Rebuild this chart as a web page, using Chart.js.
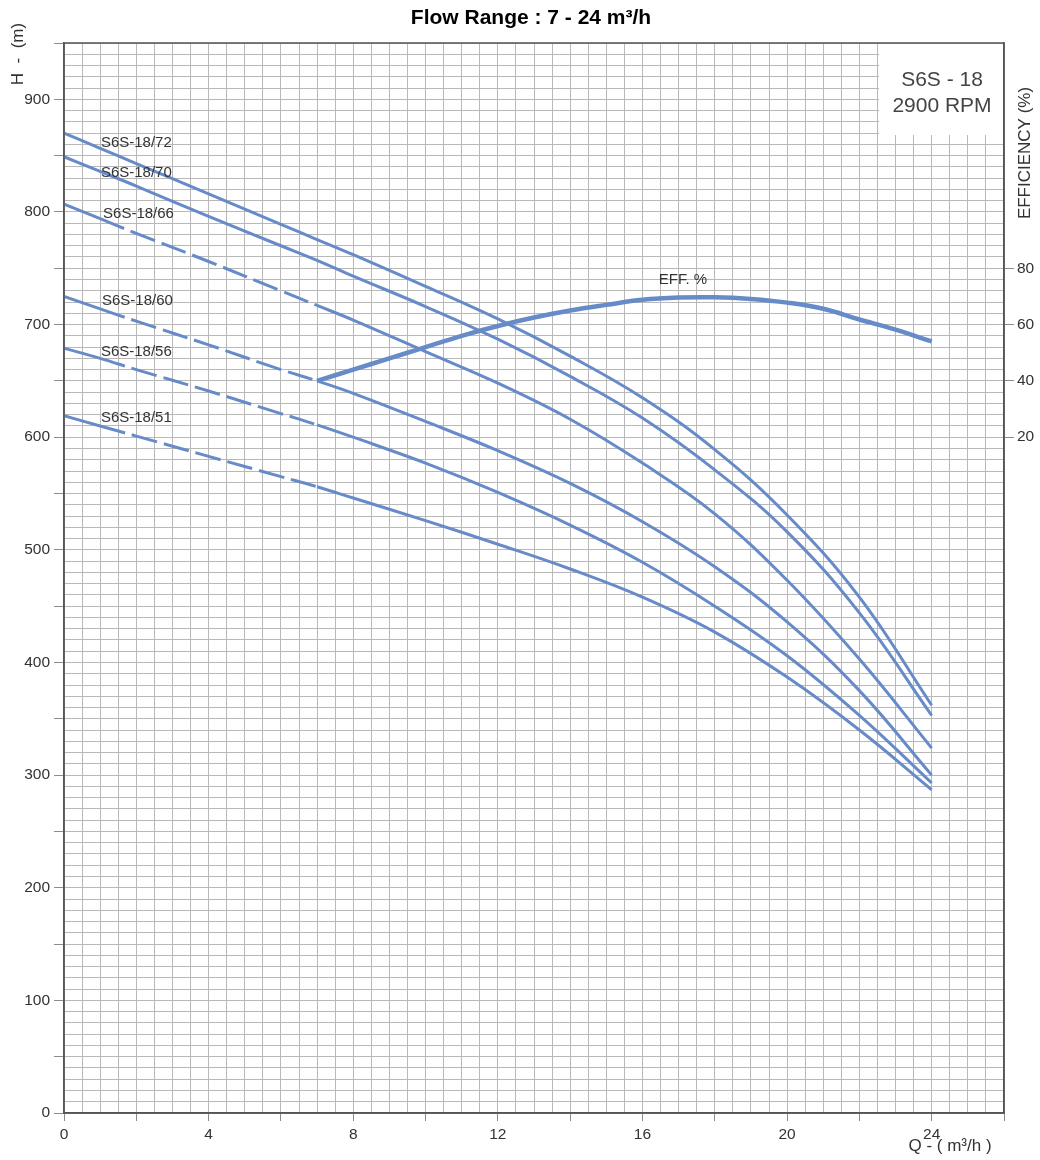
<!DOCTYPE html>
<html>
<head>
<meta charset="utf-8">
<script src="https://cdn.jsdelivr.net/npm/chart.js@4"></script>
<style>
  html, body { margin: 0; padding: 0; background: #fff; }
  #wrap { width: 1040px; height: 1160px; }
</style>
</head>
<body>
<div id="wrap"><canvas id="pumpChart" width="1040" height="1160"></canvas></div>
<script>
// flow points (m3/h) shared by head curves
const flowQ = [0, 1, 2, 4, 6, 7, 8, 10, 12, 14, 16, 18, 20, 22, 24];
const h72 = [870, 856.5, 843, 816, 789, 775.5, 762, 734, 705, 672, 635, 589, 531, 458, 362];
const h70 = [849, 836, 823, 796, 770, 757, 743, 716, 687, 654, 617, 571, 516, 444, 353];
const h66 = [807, 794, 781, 756, 730, 717, 704, 676, 648, 616, 577, 532, 473, 403, 324];
const h60 = [725, 714, 703, 682, 660, 650, 639, 614, 588, 559, 525, 485, 436, 375, 300];
const h56 = [679, 670, 660, 641, 621, 611, 600, 577, 551, 522, 489, 450, 406, 353, 293];
const h51 = [619, 610, 601, 583, 565, 556, 546, 526, 505, 483, 458, 427, 387, 340, 287];

// efficiency curve
const effQ = [7, 8, 9, 10, 11, 12, 13, 14, 15, 16, 17, 18, 19, 20, 21, 22, 23, 24];
const effPct = [40, 44, 48, 52, 56, 59.5, 62.5, 65, 67, 68.8, 69.6, 69.7, 69.1, 67.8, 65.6, 61.8, 58.2, 54];

const curveNames = ['S6S-18/72', 'S6S-18/70', 'S6S-18/66', 'S6S-18/60', 'S6S-18/56', 'S6S-18/51'];
const curveHeads = [h72, h70, h66, h60, h56, h51];
const dashedCurves = ['S6S-18/66', 'S6S-18/60', 'S6S-18/56', 'S6S-18/51'];

// label anchors in data units [text, Q, value, axis]
const labelAt = [
    ['S6S-18/72', 1.02, 861, 'y'],
    ['S6S-18/70', 1.02, 835, 'y'],
    ['S6S-18/66', 1.08, 798, 'y'],
    ['S6S-18/60', 1.05, 721, 'y'],
    ['S6S-18/56', 1.02, 676, 'y'],
    ['S6S-18/51', 1.02, 617, 'y'],
    ['EFF. %', 16.45, 76, 'y2']
];

const blue = 'rgb(103,139,200)';
const font = '"Liberation Sans", Arial, sans-serif';

function toPoints(xs, ys) {
    return xs.map((x, i) => ({ x: x, y: ys[i] }));
}

let datasets = [{
    label: 'EFF',
    data: toPoints(effQ, effPct),
    yAxisID: 'y2',
    borderColor: blue,
    borderWidth: 4.5,
    pointRadius: 0,
    tension: 0.4
}];
curveNames.forEach((name, i) => {
    const dashed = dashedCurves.includes(name);
    datasets.push({
        label: name,
        data: toPoints(flowQ, curveHeads[i]),
        yAxisID: 'y',
        borderColor: blue,
        borderWidth: 3,
        pointRadius: 0,
        tension: 0.4,
        segment: {
            borderDash: ctx => (dashed && ctx.p0.parsed.x >= 1 && ctx.p1.parsed.x <= 7) ? [26, 7] : undefined
        }
    });
});

const extras = {
    id: 'extras',
    beforeDatasetsDraw(chart) {
        const c = chart.ctx, a = chart.chartArea;
        // model box in the top right corner
        c.save();
        c.fillStyle = '#fff';
        c.fillRect(a.right - 125, a.top + 1, 124, 91);
        c.fillStyle = '#444';
        c.font = '21px ' + font;
        c.textAlign = 'center';
        c.textBaseline = 'middle';
        c.fillText('S6S - 18', a.right - 62, a.top + 37);
        c.fillText('2900 RPM', a.right - 62, a.top + 63);
        c.restore();
    },
    afterDraw(chart) {
        const c = chart.ctx, a = chart.chartArea, s = chart.scales;
        c.save();
        c.strokeStyle = '#555';
        c.lineWidth = 1.5;
        c.strokeRect(a.left, a.top, a.right - a.left, a.bottom - a.top);

        c.fillStyle = '#333';
        c.textBaseline = 'middle';
        c.textAlign = 'left';
        c.font = '15px ' + font;
        labelAt.forEach(([txt, q, v, ax]) => {
            c.fillText(txt, s.x.getPixelForValue(q), s[ax].getPixelForValue(v));
        });

        // title
        c.fillStyle = '#000';
        c.textAlign = 'center';
        c.font = 'bold 21px ' + font;
        c.fillText('Flow Range : 7 - 24 m³/h', (a.left + a.right) / 2 - 3, 18);

        // axis titles
        c.fillStyle = '#333';
        c.font = '17px ' + font;
        c.fillText('Q - ( m³/h )', 950, 1146);
        c.save();
        c.translate(18, 54);
        c.rotate(-Math.PI / 2);
        c.fillText('H  -  (m)', 0, 0);
        c.restore();
        c.save();
        c.translate(1025, 153);
        c.rotate(-Math.PI / 2);
        c.fillText('EFFICIENCY (%)', 0, 0);
        c.restore();
        c.restore();
    }
};

const gridGray = '#b8b8b8';
const tickGray = '#8c8c8c';
const tickFont = { family: font, size: 15.5 };

let ctx = document.getElementById('pumpChart').getContext('2d');
let pumpChart = new Chart(ctx, {
    type: 'line',
    data: { datasets: datasets },
    options: {
        responsive: false,
        animation: false,
        layout: { padding: { top: 43, left: 0, right: 0, bottom: 0 } },
        plugins: { legend: { display: false }, tooltip: { enabled: false } },
        scales: {
            x: {
                type: 'linear',
                min: 0, max: 26,
                afterFit: sc => { sc.height = 47; },
                border: { display: true, color: '#555', width: 1.5 },
                grid: {
                    color: gridGray,
                    tickLength: 8,
                    tickColor: c => (c.tick && c.tick.value % 2 === 0) ? tickGray : 'rgba(0,0,0,0)'
                },
                ticks: {
                    stepSize: 0.5,
                    autoSkip: false,
                    maxRotation: 0,
                    padding: 4,
                    color: '#333',
                    font: tickFont,
                    callback: v => (v % 4 === 0 && v <= 24) ? String(v) : ''
                }
            },
            y: {
                type: 'linear',
                position: 'left',
                min: 0, max: 950,
                afterFit: sc => { sc.width = 64; },
                border: { display: true, color: '#555', width: 1.5 },
                grid: {
                    color: gridGray,
                    tickLength: 10,
                    tickColor: c => (c.tick && c.tick.value % 50 === 0) ? tickGray : 'rgba(0,0,0,0)'
                },
                ticks: {
                    stepSize: 10,
                    autoSkip: false,
                    padding: 4,
                    color: '#333',
                    font: tickFont,
                    callback: v => (v % 100 === 0) ? String(v) : ''
                }
            },
            y2: {
                type: 'linear',
                position: 'right',
                min: -220, max: 160,
                afterFit: sc => { sc.width = 36; },
                border: { display: true, color: '#555', width: 1.5 },
                grid: {
                    drawOnChartArea: false,
                    tickLength: 10,
                    tickColor: c => (c.tick && c.tick.value >= 20 && c.tick.value <= 80) ? tickGray : 'rgba(0,0,0,0)'
                },
                ticks: {
                    stepSize: 20,
                    autoSkip: false,
                    padding: 3,
                    color: '#333',
                    font: tickFont,
                    callback: v => (v >= 20 && v <= 80) ? String(v) : ''
                }
            }
        }
    },
    plugins: [extras]
});
</script>
</body>
</html>
